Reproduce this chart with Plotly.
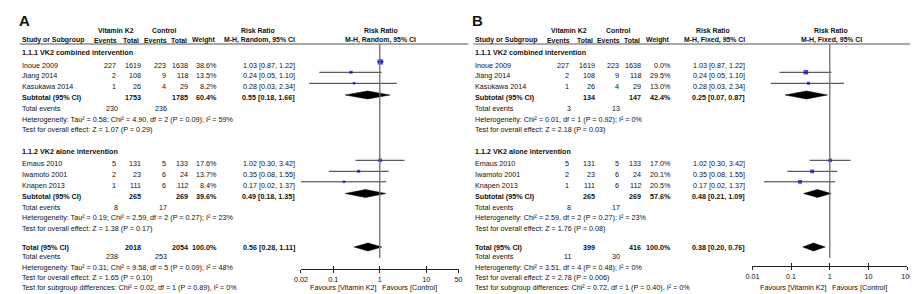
import math
import plotly.graph_objects as go

# ---------------- data ----------------
studies = ["Inoue 2009", "Jiang 2014", "Kasukawa 2014", "Emaus 2010", "Iwamoto 2001", "Knapen 2013"]
study_group = [1, 1, 1, 2, 2, 2]
vk2_events = [227, 2, 1, 5, 2, 1]
vk2_total = [1619, 108, 26, 131, 23, 111]
ctl_events = [223, 9, 4, 5, 6, 6]
ctl_total = [1638, 118, 29, 133, 24, 112]
rr = [1.03, 0.24, 0.28, 1.02, 0.35, 0.17]
rr_lo = [0.87, 0.05, 0.03, 0.30, 0.08, 0.02]
rr_hi = [1.22, 1.10, 2.34, 3.42, 1.55, 1.37]
weight_A = [38.6, 13.5, 8.2, 17.6, 13.7, 8.4]
weight_B = [0.0, 29.5, 13.0, 17.0, 20.1, 20.5]

group_titles = ["1.1.1 VK2 combined intervention", "1.1.2 VK2 alone intervention"]

# summaries: [group1, group2, overall]
A_sum_vk2_total = [1753, 265, 2018]
A_sum_ctl_total = [1785, 269, 2054]
A_sum_weight = [60.4, 39.6, 100.0]
A_sum_rr = [0.55, 0.49, 0.56]
A_sum_lo = [0.18, 0.18, 0.28]
A_sum_hi = [1.66, 1.35, 1.11]
A_sum_vk2_events = [230, 8, 238]
A_sum_ctl_events = [236, 17, 253]
A_het = ["Heterogeneity: Tau² = 0.58; Chi² = 4.90, df = 2 (P = 0.09); I² = 59%",
         "Heterogeneity: Tau² = 0.19; Chi² = 2.59, df = 2 (P = 0.27); I² = 23%",
         "Heterogeneity: Tau² = 0.31; Chi² = 9.58, df = 5 (P = 0.09); I² = 48%"]
A_overall = ["Test for overall effect: Z = 1.07 (P = 0.29)",
             "Test for overall effect: Z = 1.38 (P = 0.17)",
             "Test for overall effect: Z = 1.65 (P = 0.10)"]
A_subgroup = "Test for subgroup differences: Chi² = 0.02, df = 1 (P = 0.89), I² = 0%"

B_sum_vk2_total = [134, 265, 399]
B_sum_ctl_total = [147, 269, 416]
B_sum_weight = [42.4, 57.6, 100.0]
B_sum_rr = [0.25, 0.48, 0.38]
B_sum_lo = [0.07, 0.21, 0.20]
B_sum_hi = [0.87, 1.09, 0.76]
B_sum_vk2_events = [3, 8, 11]
B_sum_ctl_events = [13, 17, 30]
B_het = ["Heterogeneity: Chi² = 0.01, df = 1 (P = 0.92); I² = 0%",
         "Heterogeneity: Chi² = 2.59, df = 2 (P = 0.27); I² = 23%",
         "Heterogeneity: Chi² = 3.51, df = 4 (P = 0.48); I² = 0%"]
B_overall = ["Test for overall effect: Z = 2.18 (P = 0.03)",
             "Test for overall effect: Z = 1.76 (P = 0.08)",
             "Test for overall effect: Z = 2.78 (P = 0.006)"]
B_subgroup = "Test for subgroup differences: Chi² = 0.72, df = 1 (P = 0.40), I² = 0%"

A_ticks = [0.02, 0.1, 1, 10, 50]
A_ticktext = ["0.02", "0.1", "1", "10", "50"]
B_ticks = [0.01, 0.1, 1, 10, 100]
B_ticktext = ["0.01", "0.1", "1", "10", "100"]

# ---------------- layout (pixel positions) ----------------
W, H = 918, 294
FONT = "Liberation Sans, Arial, sans-serif"
TXT = "#111111"
FS = 7.2
FS_HDR = 6.9

Y_HDR1, Y_HDR2, Y_RULE = 22, 32, 36
Y_GROUP = [44.5, 143.5]
Y_STUDY = [57, 67.5, 78.5, 155.5, 166.5, 177]
Y_SUB = [89.5, 188, 239]
Y_TE = [100.5, 199, 248.5]
Y_HET = [111, 209.5, 259]
Y_OVR = [121, 220, 269]
Y_SG = 279
SQ_OFF = -3.2
DIA_OFF = [-2.5, -2.5, 0]
DIA_H = 4
Y_FAV = 279

fig = go.Figure()
annots = []
shapes = []


def txt(x, y, s, anchor="left", bold=False, size=FS):
    annots.append(dict(
        x=x / W, y=y, xref="paper", yref="y", text=("<b>%s</b>" % s) if bold else s,
        showarrow=False, xanchor=anchor, yanchor="middle", borderpad=0, borderwidth=0,
        font=dict(family=FONT, size=size, color=TXT)))


def panel(off, letter, method, weights, sv, sc, sw, sr, slo, shi, sve, sce, het, ovr, sgt,
          xa, rr_right, rr_hdr_c, plot_hdr_c, one_px, ymax_line):
    ev1, tot1, ev2, tot2, wt = 102 + off, 128 + off, 153 + off, 175 + off, 205 + off
    lab = 7 + off
    txt(4 + off, 12, letter, bold=True, size=15)
    txt(102 + off, Y_HDR1, "Vitamin K2", "center", True, FS_HDR)
    txt(152 + off, Y_HDR1, "Control", "center", True, FS_HDR)
    txt(rr_hdr_c, Y_HDR1, "Risk Ratio", "center", True, FS_HDR)
    txt(plot_hdr_c, Y_HDR1, "Risk Ratio", "center", True, FS_HDR)
    txt(lab, Y_HDR2, "Study or Subgroup", "left", True, FS_HDR)
    txt(ev1 + 1, Y_HDR2, "Events", "right", True, FS_HDR)
    txt(tot1 - 2, Y_HDR2, "Total", "right", True, FS_HDR)
    txt(ev2 + 1, Y_HDR2, "Events", "right", True, FS_HDR)
    txt(tot2 - 1, Y_HDR2, "Total", "right", True, FS_HDR)
    txt(wt - 1, Y_HDR2, "Weight", "right", True, FS_HDR)
    txt(rr_hdr_c + 2, Y_HDR2, method, "center", True, FS_HDR)
    txt(plot_hdr_c, Y_HDR2, method, "center", True, FS_HDR)
    shapes.append(dict(type="line", xref="paper", yref="y", x0=(5 + off) / W,
                       x1=min(460 + off, W - 2) / W, y0=Y_RULE, y1=Y_RULE,
                       line=dict(color="#555", width=1)))
    # study rows
    for i, name in enumerate(studies):
        y = Y_STUDY[i]
        txt(lab, y, name)
        txt(ev1, y, str(vk2_events[i]), "right")
        txt(tot1, y, str(vk2_total[i]), "right")
        txt(ev2, y, str(ctl_events[i]), "right")
        txt(tot2, y, str(ctl_total[i]), "right")
        txt(wt, y, "%.1f%%" % weights[i], "right")
        txt(rr_right, y, "%.2f [%.2f, %.2f]" % (rr[i], rr_lo[i], rr_hi[i]), "right")
    for g in range(3):
        if g < 2:
            txt(lab, Y_GROUP[g], group_titles[g], "left", True)
            txt(lab, Y_SUB[g], "Subtotal (95% CI)", "left", True)
        else:
            txt(lab, Y_SUB[g], "Total (95% CI)", "left", True)
        txt(tot1, Y_SUB[g], str(sv[g]), "right", True)
        txt(tot2, Y_SUB[g], str(sc[g]), "right", True)
        txt(wt, Y_SUB[g], "%.1f%%" % sw[g], "right", True)
        txt(rr_right, Y_SUB[g], "%.2f [%.2f, %.2f]" % (sr[g], slo[g], shi[g]), "right", True)
        txt(lab, Y_TE[g], "Total events")
        txt(ev1 + 2, Y_TE[g], str(sve[g]), "right")
        txt(ev2 + 1, Y_TE[g], str(sce[g]), "right")
        txt(lab, Y_HET[g], het[g])
        txt(lab, Y_OVR[g], ovr[g])
    txt(lab, Y_SG, sgt)
    # favours labels
    txt(one_px - 3, Y_FAV, "Favours [Vitamin K2]", "right")
    txt(one_px + 2, Y_FAV, "Favours [Control]", "left")
    # line of no effect
    shapes.append(dict(type="line", xref=xa, yref="y", x0=1, x1=1, y0=Y_RULE, y1=ymax_line,
                       line=dict(color="#6e6e6e", width=1.3)))
    # CI lines
    cx, cy = [], []
    sx, sy, ss = [], [], []
    for i in range(len(studies)):
        if weights[i] <= 0:
            continue
        y = Y_STUDY[i] + SQ_OFF
        cx += [rr_lo[i], rr_hi[i], None]
        cy += [y, y, None]
        sx.append(rr[i]); sy.append(y); ss.append(0.85 * math.sqrt(weights[i]))
    fig.add_trace(go.Scatter(x=cx, y=cy, xaxis=xa, yaxis="y", mode="lines",
                             line=dict(color="#333", width=1), hoverinfo="skip"))
    fig.add_trace(go.Scatter(x=sx, y=sy, xaxis=xa, yaxis="y", mode="markers",
                             marker=dict(symbol="square", size=ss, color="#0000cc",
                                         line=dict(width=0)), hoverinfo="skip"))
    for g in range(3):
        yc = Y_SUB[g] + DIA_OFF[g]
        fig.add_trace(go.Scatter(
            x=[slo[g], sr[g], shi[g], sr[g], slo[g]],
            y=[yc, yc - DIA_H, yc, yc + DIA_H, yc],
            xaxis=xa, yaxis="y", mode="lines", fill="toself", fillcolor="black",
            line=dict(color="black", width=0.5), hoverinfo="skip"))


panel(0, "A", "M-H, Random, 95% CI", weight_A, A_sum_vk2_total, A_sum_ctl_total, A_sum_weight,
      A_sum_rr, A_sum_lo, A_sum_hi, A_sum_vk2_events, A_sum_ctl_events, A_het, A_overall,
      A_subgroup, "x", 284, 246, 371, 370, 250)
panel(460, "B", "M-H, Fixed, 95% CI", weight_B, B_sum_vk2_total, B_sum_ctl_total, B_sum_weight,
      B_sum_rr, B_sum_lo, B_sum_hi, B_sum_vk2_events, B_sum_ctl_events, B_het, B_overall,
      B_subgroup, "x2", 740, 708, 828, 827, 250)

# dummy traces so overlay (inward tick) axes are drawn
fig.add_trace(go.Scatter(x=[1], y=[-50], xaxis="x3", yaxis="y", mode="markers",
                         marker=dict(opacity=0), hoverinfo="skip"))
fig.add_trace(go.Scatter(x=[1], y=[-50], xaxis="x4", yaxis="y", mode="markers",
                         marker=dict(opacity=0), hoverinfo="skip"))

A_dom = [290 / W, 450 / W]
B_dom = [748 / W, 905 / W]
A_pos = 1 - 261 / H
B_pos = 1 - 258 / H
axis_common = dict(type="log", showgrid=False, zeroline=False, showline=True,
                   linecolor="#222", linewidth=1, ticks="outside", ticklen=3,
                   tickcolor="#222", tickwidth=1, anchor="free", fixedrange=True,
                   tickfont=dict(family=FONT, size=FS, color=TXT))
inner_common = dict(type="log", showgrid=False, zeroline=False, showline=False,
                    ticks="inside", ticklen=3, tickcolor="#222", tickwidth=1,
                    showticklabels=False, anchor="free", fixedrange=True)

fig.update_layout(
    width=W, height=H, autosize=False, showlegend=False,
    margin=dict(l=0, r=0, t=0, b=0, pad=0),
    paper_bgcolor="white", plot_bgcolor="white",
    xaxis=dict(axis_common, domain=A_dom, range=[math.log10(0.02), math.log10(50)],
               position=A_pos, tickvals=A_ticks, ticktext=A_ticktext),
    xaxis2=dict(axis_common, domain=B_dom, range=[-2, 2],
                position=B_pos, tickvals=B_ticks, ticktext=B_ticktext),
    xaxis3=dict(inner_common, domain=A_dom, range=[math.log10(0.02), math.log10(50)],
                position=A_pos, tickvals=A_ticks, overlaying="x"),
    xaxis4=dict(inner_common, domain=B_dom, range=[-2, 2],
                position=B_pos, tickvals=B_ticks, overlaying="x2"),
    yaxis=dict(range=[H, 0], domain=[0, 1], visible=False, fixedrange=True),
    annotations=annots, shapes=shapes,
)

fig.write_html("out.html")
